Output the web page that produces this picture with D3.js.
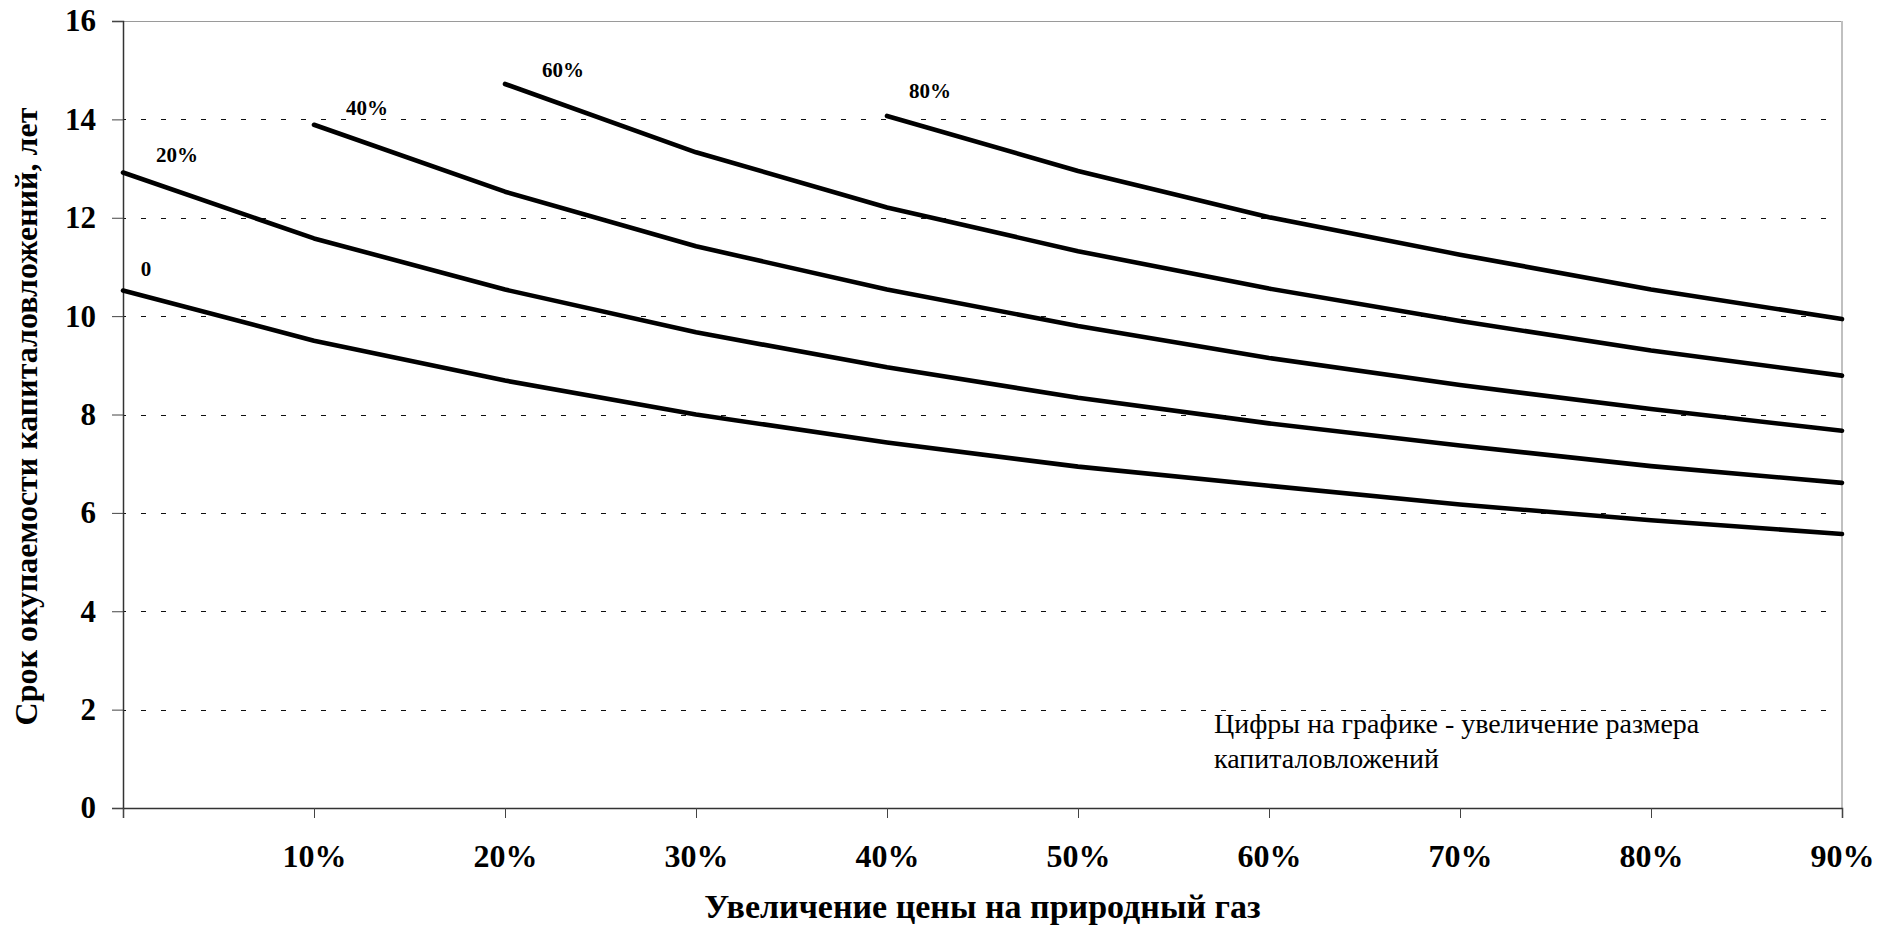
<!DOCTYPE html>
<html>
<head>
<meta charset="utf-8">
<script src="https://cdn.jsdelivr.net/npm/d3@7"></script>
<style>
  html, body { margin: 0; padding: 0; background: #fff; }
  svg { display: block; }
  text { font-family: "Liberation Serif", "Times New Roman", serif; fill: #000; }
</style>
</head>
<body>
<svg id="chart" width="1896" height="928"></svg>
<script>
// Gas price increase, % (category positions on the x axis)
const priceIncrease = [0, 10, 20, 30, 40, 50, 60, 70, 80, 90];
const xTickLabels = ["", "10%", "20%", "30%", "40%", "50%", "60%", "70%", "80%", "90%"];
const yTicks = [0, 2, 4, 6, 8, 10, 12, 14, 16];

// Payback period, years, for each increase of capital investment
const capexIncreaseLabels = ["0", "20%", "40%", "60%", "80%"];
const payback0  = [10.52, 9.50, 8.69, 8.00, 7.43, 6.94, 6.55, 6.17, 5.85, 5.57];
const payback20 = [12.92, 11.58, 10.54, 9.67, 8.96, 8.34, 7.82, 7.37, 6.95, 6.61];
const payback40 = [null, 13.89, 12.53, 11.42, 10.54, 9.80, 9.15, 8.60, 8.11, 7.67];
const payback60 = [null, null, 14.72, 13.33, 12.21, 11.32, 10.56, 9.90, 9.30, 8.79];
const payback80 = [null, null, null, null, 14.07, 12.95, 12.01, 11.25, 10.54, 9.94];
const paybackSeries = [payback0, payback20, payback40, payback60, payback80];

const xTitle = "Увеличение цены на природный газ";
const yTitle = "Срок окупаемости капиталовложений, лет";
const noteLines = ["Цифры на графике - увеличение размера", "капиталовложений"];

// ---- layout ----
const W = 1896, H = 928;
const margin = { top: 21, right: 54, bottom: 120, left: 123 };
const iw = W - margin.left - margin.right;
const ih = H - margin.top - margin.bottom;

// curve label offsets from each curve's first point (px)
const labelOffsets = [[23, -15], [54, -10], [53, -10], [58, -7], [43, -18]];

const svg = d3.select("#chart");
const g = svg.append("g").attr("transform", `translate(${margin.left},${margin.top})`);

const x = d3.scaleLinear().domain([0, 90]).range([0, iw]);
const y = d3.scaleLinear().domain([0, 16]).range([ih, 0]);

// dashed horizontal gridlines
g.append("g").selectAll("line")
  .data(yTicks.filter(d => d > 0))
  .join("line")
  .attr("x1", 0).attr("x2", iw)
  .attr("y1", d => Math.round(y(d)) + 0.5).attr("y2", d => Math.round(y(d)) + 0.5)
  .attr("stroke", "#111")
  .attr("stroke-width", 1.2)
  .attr("stroke-dasharray", "5,15")
  .attr("stroke-dashoffset", -18);

// top and right frame
g.append("line").attr("x1", 0).attr("x2", iw).attr("y1", 0.5).attr("y2", 0.5)
  .attr("stroke", "#9a9a9a").attr("stroke-width", 1);
g.append("line").attr("x1", iw).attr("x2", iw).attr("y1", 0).attr("y2", ih)
  .attr("stroke", "#c0c0c0").attr("stroke-width", 2);

// y axis
const yAxis = d3.axisLeft(y).tickValues(yTicks).tickSize(11).tickPadding(16).tickFormat(d3.format("d"));
const gy = g.append("g").call(yAxis);
gy.select(".domain").attr("stroke", "#333").attr("stroke-width", 1.5);
gy.selectAll(".tick line").attr("stroke", "#444");
gy.selectAll(".tick text")
  .style("font-family", "'Liberation Serif', 'Times New Roman', serif")
  .style("font-size", "31px").style("font-weight", "bold").attr("fill", "#000");

// x axis
const xAxis = d3.axisBottom(x).tickValues(priceIncrease).tickSize(10).tickPadding(26)
  .tickFormat((d, i) => xTickLabels[i]);
const gx = g.append("g").attr("transform", `translate(0,${ih})`).call(xAxis);
gx.select(".domain").attr("stroke", "#333").attr("stroke-width", 1.5);
gx.selectAll(".tick line").attr("stroke", "#444");
gx.selectAll(".tick text")
  .style("font-family", "'Liberation Serif', 'Times New Roman', serif")
  .style("font-size", "32px").style("font-weight", "bold").attr("fill", "#000");

// curves
const line = d3.line()
  .defined(d => d.v != null)
  .x(d => x(d.p))
  .y(d => y(d.v));

paybackSeries.forEach((vals, si) => {
  const pts = priceIncrease.map((p, i) => ({ p, v: vals[i] }));
  g.append("path")
    .datum(pts)
    .attr("d", line)
    .attr("fill", "none")
    .attr("stroke", "#000")
    .attr("stroke-width", 4.6)
    .attr("stroke-linecap", "round")
    .attr("stroke-linejoin", "round");

  const first = pts.find(d => d.v != null);
  const [dx, dy] = labelOffsets[si];
  g.append("text")
    .attr("x", x(first.p) + dx)
    .attr("y", y(first.v) + dy)
    .attr("text-anchor", "middle")
    .style("font-size", "21px")
    .style("font-weight", "bold")
    .text(capexIncreaseLabels[si]);
});

// explanatory note
const note = g.append("text")
  .attr("x", 1214 - margin.left)
  .attr("y", 733 - margin.top)
  .style("font-size", "28px");
note.selectAll("tspan").data(noteLines).join("tspan")
  .attr("x", 1214 - margin.left)
  .attr("dy", (d, i) => i === 0 ? 0 : 35)
  .text(d => d);

// axis titles
svg.append("text")
  .attr("x", margin.left + iw / 2)
  .attr("y", 918)
  .attr("text-anchor", "middle")
  .style("font-size", "34px")
  .style("font-weight", "bold")
  .text(xTitle);

svg.append("text")
  .attr("transform", `translate(37,${margin.top + ih / 2 + 2}) rotate(-90)`)
  .attr("text-anchor", "middle")
  .style("font-size", "32px")
  .style("font-weight", "bold")
  .text(yTitle);
</script>
</body>
</html>
